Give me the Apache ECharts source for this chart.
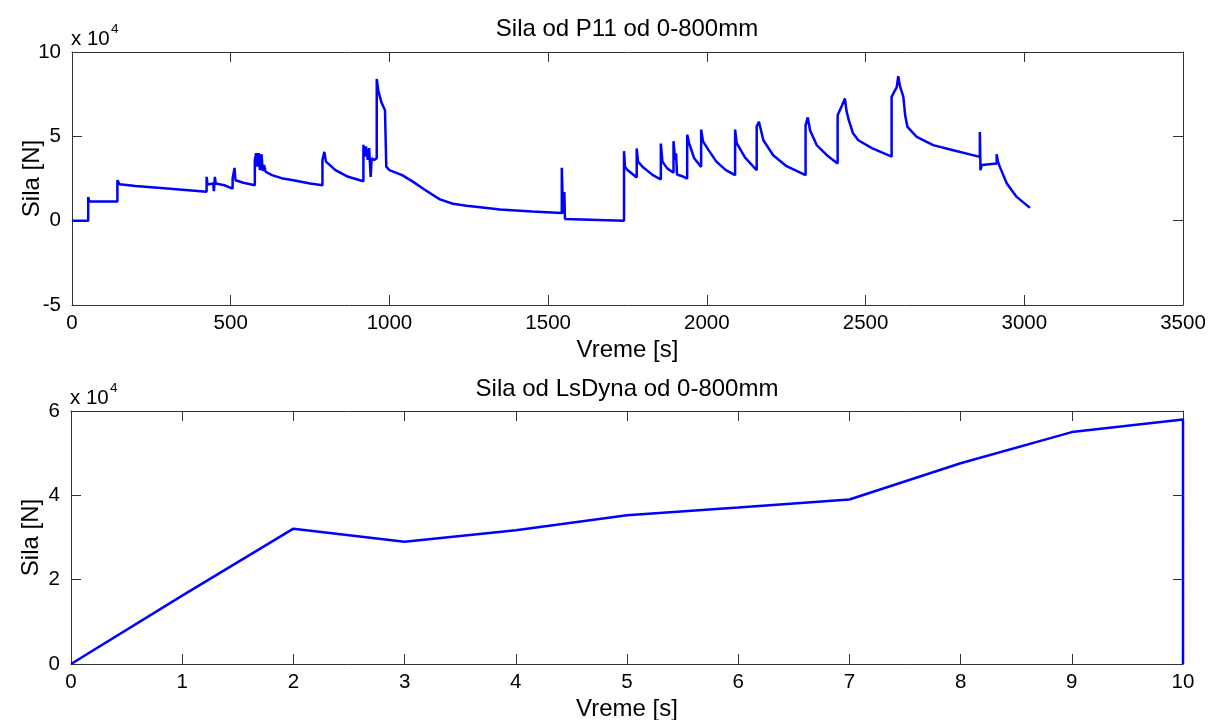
<!DOCTYPE html>
<html>
<head>
<meta charset="utf-8">
<script src="https://cdn.jsdelivr.net/npm/echarts@6/dist/echarts.min.js"></script>
<style>
  html, body { margin: 0; padding: 0; background: #fff; }
  #chart { width: 1209px; height: 720px; }
</style>
</head>
<body>
<div id="chart"></div>
<script>
// Measured force from P11, 0-800 mm: [time s, force N]
const p11Force = [
  [0, 0], [51, 0], [51, 14000], [54, 11500], [100, 11300], [143, 11400],
  [143, 24000], [150, 21600], [200, 20500], [300, 19000], [424, 17200],
  [424, 26000], [427, 21500], [445, 22000], [447, 17500], [450, 26000], [453, 22000], [480, 21000], [506, 19000],
  [506, 25000], [512, 31300], [515, 24000], [540, 22500], [576, 21000],
  [576, 36000], [580, 40000], [584, 32000], [588, 40000], [592, 30000], [597, 39500], [601, 29500], [605, 33000],
  [610, 29000], [630, 27000], [660, 25200], [697, 24000], [750, 22000], [789, 21000],
  [789, 36000], [795, 40800], [800, 35000], [830, 30000], [870, 26000], [918, 23400],
  [918, 45000], [922, 38000], [926, 44000], [932, 36000], [936, 43000], [941, 26000], [944, 37000], [952, 36000], [960, 37000],
  [960, 84000], [965, 77000], [975, 70000], [986, 65500], [990, 32000], [1000, 30000], [1040, 27000], [1075, 23000],
  [1110, 18500], [1159, 12600], [1200, 10000], [1243, 8800], [1300, 7600], [1348, 6600], [1450, 5500], [1543, 4600],
  [1543, 31300], [1547, 4000], [1551, 17000], [1553, 1000], [1558, 0], [1739, 0],
  [1739, 41200], [1742, 32000], [1750, 30000], [1779, 25600],
  [1779, 42800], [1783, 35000], [1800, 31500], [1830, 27000], [1855, 24400],
  [1855, 45700], [1860, 35000], [1875, 31000], [1895, 28400],
  [1895, 47100], [1900, 36000], [1903, 40000], [1906, 27400], [1920, 26500], [1938, 25000],
  [1938, 51000], [1944, 46000], [1960, 37000], [1982, 31900],
  [1982, 54000], [1988, 47000], [2005, 42000], [2030, 35000], [2060, 30000], [2089, 27000],
  [2089, 54000], [2094, 46000], [2120, 37500], [2157, 29900],
  [2157, 56000], [2164, 58600], [2178, 47700], [2209, 38800], [2251, 32300], [2311, 27000],
  [2311, 56600], [2318, 61200], [2325, 53600], [2346, 44800], [2378, 38800], [2412, 33900],
  [2412, 62500], [2425, 68000], [2435, 72400], [2440, 65000], [2447, 59600], [2460, 52000], [2477, 47700],
  [2520, 43000], [2582, 38000],
  [2582, 73400], [2590, 76300], [2598, 79000], [2603, 85700], [2608, 80000], [2619, 73400], [2625, 62000],
  [2632, 55600], [2661, 49700], [2713, 44800], [2776, 41800], [2860, 37800],
  [2860, 52600], [2862, 29900], [2866, 33000], [2890, 33500], [2913, 33900],
  [2913, 39400], [2917, 35000], [2923, 31900], [2945, 22000], [2976, 14100], [3018, 7600]
];

// LsDyna simulation force, 0-800 mm: [time s, force N]
const lsDynaForce = [
  [0, 0], [1, 16200], [2, 32100], [3, 29000], [4, 31700], [5, 35300],
  [6, 37100], [7, 39000], [8, 47600], [9, 55000], [10, 58000], [10, 0]
];

const topTitle = 'Sila od P11 od 0-800mm';
const bottomTitle = 'Sila od LsDyna od 0-800mm';
const xName = 'Vreme [s]';
const yName = 'Sila [N]';
const exponentBase = 'x 10';
const exponentPower = '4';

const FONT = '"Liberation Sans", Arial, Helvetica, sans-serif';
const AXIS_COLOR = '#333';
const LINE_BLUE = '#0000ff';
const TICK_FONT = 20.5;
const NAME_FONT = 24;

function mainX(gridIndex, min, max, interval, gap) {
  return {
    type: 'value', gridIndex, min, max, interval,
    name: xName, nameLocation: 'middle', nameGap: gap, nameMoveOverlap: false,
    nameTextStyle: { color: '#000', fontFamily: FONT, fontSize: NAME_FONT },
    axisLine: { show: true, onZero: false, lineStyle: { color: AXIS_COLOR, width: 1 } },
    axisTick: { show: true, inside: true, length: 10, lineStyle: { color: AXIS_COLOR } },
    axisLabel: { color: '#000', fontFamily: FONT, fontSize: TICK_FONT, margin: 8,
                 formatter: v => String(v) },
    splitLine: { show: false }
  };
}
function boxX(gridIndex, min, max, interval) {
  return {
    type: 'value', gridIndex, min, max, interval, position: 'top',
    axisLine: { show: true, onZero: false, lineStyle: { color: AXIS_COLOR, width: 1 } },
    axisTick: { show: true, inside: true, length: 10, lineStyle: { color: AXIS_COLOR } },
    axisLabel: { show: false }, splitLine: { show: false }
  };
}
function mainY(gridIndex, min, max, interval) {
  return {
    type: 'value', gridIndex, min, max, interval,
    name: yName, nameLocation: 'middle', nameGap: 28, nameRotate: 90, nameMoveOverlap: false,
    nameTextStyle: { color: '#000', fontFamily: FONT, fontSize: NAME_FONT },
    axisLine: { show: true, onZero: false, lineStyle: { color: AXIS_COLOR, width: 1 } },
    axisTick: { show: true, inside: true, length: 10, lineStyle: { color: AXIS_COLOR } },
    axisLabel: { color: '#000', fontFamily: FONT, fontSize: TICK_FONT, margin: 11,
                 formatter: v => String(Math.round(v / 1e4)) },
    splitLine: { show: false }
  };
}
function boxY(gridIndex, min, max, interval) {
  return {
    type: 'value', gridIndex, min, max, interval, position: 'right',
    axisLine: { show: true, onZero: false, lineStyle: { color: AXIS_COLOR, width: 1 } },
    axisTick: { show: true, inside: true, length: 10, lineStyle: { color: AXIS_COLOR } },
    axisLabel: { show: false }, splitLine: { show: false }
  };
}
function textAt(text, x, y, size, align) {
  return { type: 'text', x, y,
    style: { text, fontFamily: FONT, fontSize: size, fill: '#000',
             align: align || 'left', verticalAlign: 'middle' } };
}

const chart = echarts.init(document.getElementById('chart'), null, { renderer: 'canvas' });
chart.setOption({
  animation: false,
  backgroundColor: '#fff',
  grid: [
    { left: 72, top: 52, width: 1111, height: 253, outerBoundsMode: 'none', containLabel: false },
    { left: 71, top: 411, width: 1112, height: 253, outerBoundsMode: 'none', containLabel: false }
  ],
  xAxis: [
    mainX(0, 0, 3500, 500, 33), boxX(0, 0, 3500, 500),
    mainX(1, 0, 10, 1, 33), boxX(1, 0, 10, 1)
  ],
  yAxis: [
    mainY(0, -50000, 100000, 50000), boxY(0, -50000, 100000, 50000),
    mainY(1, 0, 60000, 20000), boxY(1, 0, 60000, 20000)
  ],
  series: [
    { type: 'line', xAxisIndex: 0, yAxisIndex: 0, data: p11Force,
      showSymbol: false, symbol: 'none', sampling: null,
      lineStyle: { color: LINE_BLUE, width: 2.5 }, z: 3 },
    { type: 'line', xAxisIndex: 2, yAxisIndex: 2, data: lsDynaForce,
      showSymbol: false, symbol: 'none',
      lineStyle: { color: LINE_BLUE, width: 2.5 }, z: 3 }
  ],
  graphic: [
    textAt(topTitle, 627, 29, NAME_FONT, 'center'),
    textAt(bottomTitle, 627, 389, NAME_FONT, 'center'),
    textAt(exponentBase, 71, 39, TICK_FONT),
    textAt(exponentPower, 111, 29, 13.5),
    textAt(exponentBase, 70, 398, TICK_FONT),
    textAt(exponentPower, 110, 388, 13.5)
  ]
});
</script>
</body>
</html>
